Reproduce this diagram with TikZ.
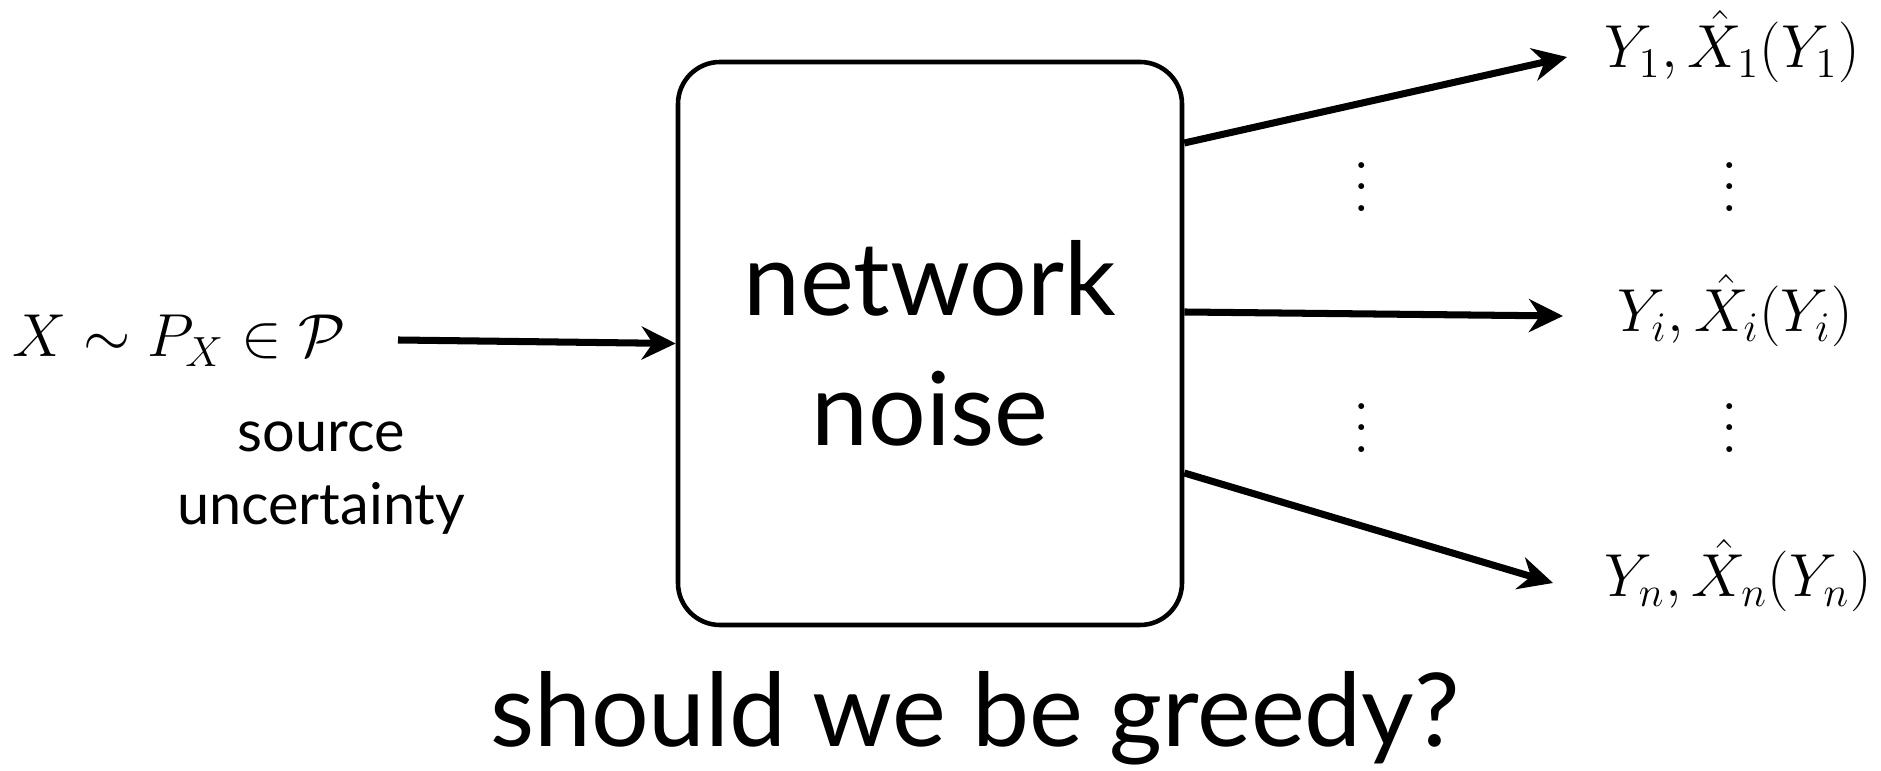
\documentclass[tikz,border=0pt]{standalone}
\usepackage{amsmath,amssymb}
\usepackage{fontspec}
\setmainfont{Lato}
\usepackage{tikz}
\usetikzlibrary{arrows.meta,positioning,calc}

\begin{document}
\begin{tikzpicture}[
  blk/.style={rectangle, draw, line width=1.3pt, rounded corners=0.42cm,
              minimum width=5.04cm, minimum height=5.63cm},
  big/.style={font=\fontsize{29}{37}\selectfont, align=center, inner sep=0pt},
  lab/.style={font=\fontsize{16.4}{20.7}\selectfont, align=center, inner sep=0pt},
  mth/.style={font=\fontsize{17}{20}\selectfont, inner sep=0pt},
  vdot/.style={font=\fontsize{17}{6}\selectfont, align=center, inner sep=0pt},
  arr/.style={-{Stealth[length=0.34cm, width=0.33cm]}, line width=2pt}
]
  \useasboundingbox (0,0) rectangle (18.81,7.71);
  \node[blk] (box) at (9.30,4.275) {};
  \node[big] (boxtxt) at (box.center) {network\\ noise};
  \node[mth, anchor=base east] (src) at (3.47,4.14) {$X \sim P_X \in \mathcal{P}$};
  \node[lab] (unc) at (3.21,2.93) {source\\ uncertainty};
  \coordinate (in) at (3.98,4.31);
  \draw[arr] (in) -- (box.west);
  % outputs
  \node[mth, anchor=base] (y1) at (17.32,7.03) {$Y_1, \hat{X}_1(Y_1)$};
  \node[mth, anchor=base] (yi) at (17.35,4.39) {$Y_i, \hat{X}_i(Y_i)$};
  \node[mth, anchor=base] (yn) at (17.38,1.74) {$Y_n, \hat{X}_n(Y_n)$};
  \coordinate (o1) at ([yshift=2.005cm]box.east);
  \coordinate (oi) at ([yshift=0.315cm]box.east);
  \coordinate (on) at ([yshift=-1.295cm]box.east);
  \coordinate (e1) at (15.67,7.14);
  \coordinate (ei) at (15.63,4.55);
  \coordinate (en) at (15.53,1.88);
  \draw[arr] (o1) -- (e1);
  \draw[arr] (oi) -- (ei);
  \draw[arr] (on) -- (en);
  \node[vdot] (d1) at (13.62,5.84) {$.$\\ $.$\\ $.$};
  \node[vdot] (d2) at (17.30,5.84) {$.$\\ $.$\\ $.$};
  \node[vdot] (d3) at (13.62,3.43) {$.$\\ $.$\\ $.$};
  \node[vdot] (d4) at (17.30,3.43) {$.$\\ $.$\\ $.$};
  \node[font=\fontsize{29}{35}\selectfont, anchor=base] (q) at (9.75,0.24) {should we be greedy?};
\end{tikzpicture}
\end{document}
